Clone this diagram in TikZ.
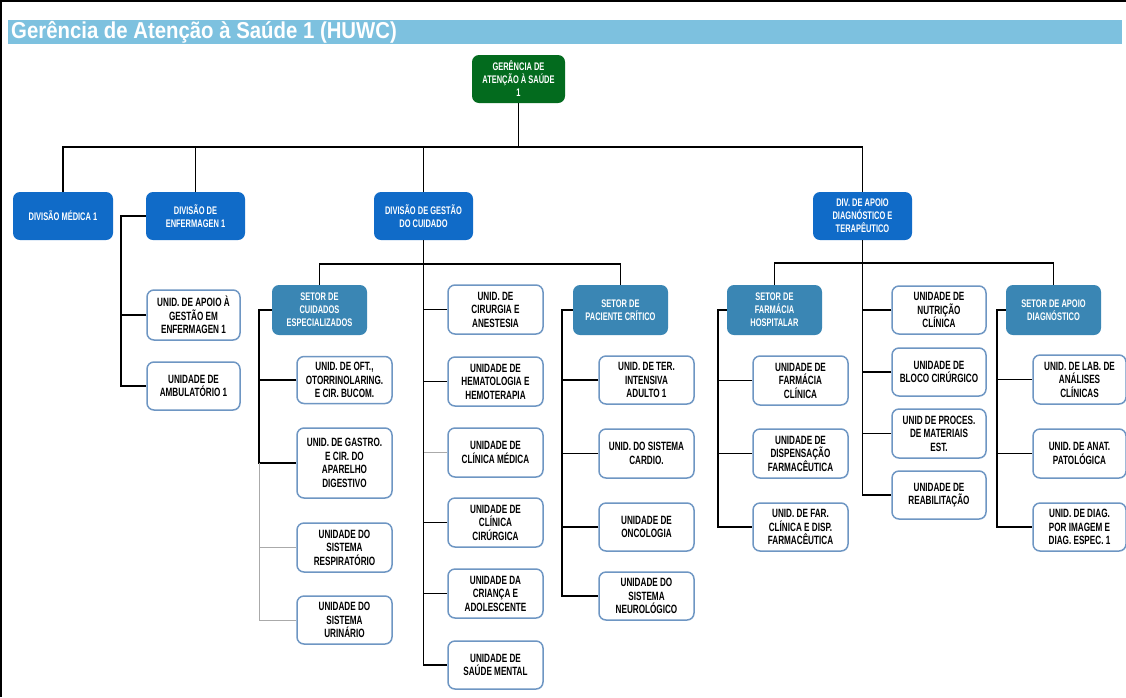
\documentclass[tikz,border=0pt]{standalone}
\usepackage{fontspec}
\newfontfamily\unitfont{Liberation Sans}[FakeStretch=0.68]
\newfontfamily\titlefont{Liberation Sans}[FakeStretch=0.885]
\definecolor{titlebar}{RGB}{125,193,223}
\definecolor{topgreen}{RGB}{3,107,30}
\definecolor{divblue}{RGB}{16,107,200}
\definecolor{setorblue}{RGB}{58,134,180}
\definecolor{unitborder}{RGB}{110,150,195}
\definecolor{lightline}{RGB}{170,170,170}
\tikzset{
  box/.style={rounded corners=7pt, align=center, inner sep=0pt,
    font=\unitfont\bfseries\fontsize{12}{13.5}\selectfont},
  topbox/.style={box, fill=topgreen, text=white, minimum width=93pt, minimum height=48pt,
    font=\unitfont\bfseries\fontsize{11}{13}\selectfont},
  divbox/.style={box, fill=divblue, text=white, minimum width=99pt, minimum height=48pt,
    font=\unitfont\bfseries\fontsize{11}{13}\selectfont},
  setorbox/.style={box, fill=setorblue, text=white, minimum width=95pt, minimum height=50pt,
    font=\unitfont\bfseries\fontsize{11}{13}\selectfont},
  unitbox/.style={box, draw=unitborder, line width=1.5pt, fill=white, text=black,
    minimum width=95pt, minimum height=49pt},
  conn/.style={draw=black, line width=1.4pt},
  lconn/.style={draw=lightline, line width=1pt},
}
\begin{document}
\begin{tikzpicture}[x=1pt,y=-1pt]
\useasboundingbox (0,0) rectangle (1126,697);
\fill[white] (0,0) rectangle (1126,697);
% frame
\draw[line width=2.5pt] (1,697) -- (1,1) -- (1126,1);
% title
\fill[titlebar] (8,20) rectangle (1122,44);
\node[anchor=west, text=white, inner sep=0pt, font=\titlefont\bfseries\fontsize{23}{24}\selectfont] (title) at (11,32.5) {Gerência de Atenção à Saúde 1 (HUWC)};

% top
\node[topbox] (top) at (518.5,79) {GERÊNCIA DE\\ATENÇÃO À SAÚDE\\1};
% divisions
\node[divbox, minimum width=100pt] (dm) at (63,216) {DIVISÃO MÉDICA 1};
\node[divbox] (de) at (195.5,216) {DIVISÃO DE\\ENFERMAGEN 1};
\node[divbox] (dg) at (423.5,216) {DIVISÃO DE GESTÃO\\DO CUIDADO};
\node[divbox] (da) at (862.5,216) {DIV. DE APOIO\\DIAGNÓSTICO E\\TERAPÊUTICO};

% enfermagem
\node[unitbox, minimum width=93pt, minimum height=50pt] (e1) at (193.5,315) {UNID. DE APOIO À\\GESTÃO EM\\ENFERMAGEN 1};
\node[unitbox, minimum width=93pt, minimum height=48pt] (e2) at (193.5,386) {UNIDADE DE\\AMBULATÓRIO 1};

% setores
\node[setorbox] (sc) at (319.5,310) {SETOR DE\\CUIDADOS\\ESPECIALIZADOS};
\node[setorbox] (sp) at (620.5,310) {SETOR DE\\PACIENTE CRÍTICO};
\node[setorbox] (sf) at (774.5,310) {SETOR DE\\FARMÁCIA\\HOSPITALAR};
\node[setorbox] (sa) at (1053.5,310) {SETOR DE APOIO\\DIAGNÓSTICO};

% cuidados especializados
\node[unitbox, minimum height=47pt] (c1) at (344.5,380) {UNID. DE OFT.,\\OTORRINOLARING.\\E CIR. BUCOM.};
\node[unitbox, minimum height=70pt] (c2) at (344.5,463) {UNID. DE GASTRO.\\E CIR. DO\\APARELHO\\DIGESTIVO};
\node[unitbox] (c3) at (344.5,547.5) {UNIDADE DO\\SISTEMA\\RESPIRATÓRIO};
\node[unitbox, minimum height=48pt] (c4) at (344.5,620) {UNIDADE DO\\SISTEMA\\URINÁRIO};

% gestao do cuidado middle column
\node[unitbox] (m1) at (495.5,309.5) {UNID. DE\\CIRURGIA E\\ANESTESIA};
\node[unitbox] (m2) at (495.5,381.5) {UNIDADE DE\\HEMATOLOGIA E\\HEMOTERAPIA};
\node[unitbox] (m3) at (495.5,452.5) {UNIDADE DE\\CLÍNICA MÉDICA};
\node[unitbox] (m4) at (495.5,522.5) {UNIDADE DE\\CLÍNICA\\CIRÚRGICA};
\node[unitbox] (m5) at (495.5,593.5) {UNIDADE DA\\CRIANÇA E\\ADOLESCENTE};
\node[unitbox, minimum height=48pt] (m6) at (495.5,665) {UNIDADE DE\\SAÚDE MENTAL};

% paciente critico
\node[unitbox, minimum height=48pt] (p1) at (646.5,380) {UNID. DE TER.\\INTENSIVA\\ADULTO 1};
\node[unitbox] (p2) at (646.5,453.5) {UNID. DO SISTEMA\\CARDIO.};
\node[unitbox, minimum height=48pt] (p3) at (646.5,527) {UNIDADE DE\\ONCOLOGIA};
\node[unitbox, minimum height=48pt] (p4) at (646.5,596) {UNIDADE DO\\SISTEMA\\NEUROLÓGICO};

% farmacia
\node[unitbox] (f1) at (800.5,380.5) {UNIDADE DE\\FARMÁCIA\\CLÍNICA};
\node[unitbox] (f2) at (800.5,453.5) {UNIDADE DE\\DISPENSAÇÃO\\FARMACÊUTICA};
\node[unitbox, minimum height=48pt] (f3) at (800.5,527) {UNID. DE FAR.\\CLÍNICA E DISP.\\FARMACÊUTICA};

% apoio middle column
\node[unitbox, minimum width=94pt, minimum height=48pt] (a1) at (939,310) {UNIDADE DE\\NUTRIÇÃO\\CLÍNICA};
\node[unitbox, minimum width=94pt, minimum height=48pt] (a2) at (939,372) {UNIDADE DE\\BLOCO CIRÚRGICO};
\node[unitbox, minimum width=94pt] (a3) at (939,433.5) {UNID DE PROCES.\\DE MATERIAIS\\EST.};
\node[unitbox, minimum width=94pt, minimum height=48pt] (a4) at (939,495) {UNIDADE DE\\REABILITAÇÃO};

% apoio diagnostico
\node[unitbox, minimum width=93pt] (d1) at (1079.5,379.5) {UNID. DE LAB. DE\\ANÁLISES\\CLÍNICAS};
\node[unitbox, minimum width=93pt] (d2) at (1079.5,453.5) {UNID. DE ANAT.\\PATOLÓGICA};
\node[unitbox, minimum width=93pt, minimum height=48pt] (d3) at (1079.5,527) {UNID. DE DIAG.\\POR IMAGEM E\\DIAG. ESPEC. 1};

% bus coordinates
\coordinate (bus1) at (0,147);
\coordinate (bus2) at (0,264);
\coordinate (bus3) at (0,263);
\coordinate (benf) at (121,0);
\coordinate (bsc) at (259,0);
\coordinate (bsp) at (562,0);
\coordinate (bsf) at (718,0);
\coordinate (bsa) at (997,0);

% top level
\draw[conn] (top.south) -- (top.south |- bus1);
\draw[conn] (dm.north) -- (dm.north |- bus1) -- (da.north |- bus1) -- (da.north);
\draw[conn] (de.north) -- (de.north |- bus1);
\draw[conn] (dg.north) -- (dg.north |- bus1);

% enfermagem
\draw[conn] (de.west) -- (de.west -| benf) |- (e2.west);
\draw[conn] (e1.west) -- (e1.west -| benf);

% gestao do cuidado
\draw[conn] (dg.south) |- (m6.west);
\draw[conn] (sc.north) -- (sc.north |- bus2) -- (sp.north |- bus2) -- (sp.north);
\draw[conn] (m1.west) -- (m1.west -| dg.south);
\draw[conn] (m2.west) -- (m2.west -| dg.south);
\draw[lconn] (m3.west) -- (m3.west -| dg.south);
\draw[conn] (m4.west) -- (m4.west -| dg.south);
\draw[conn] (m5.west) -- (m5.west -| dg.south);

% cuidados especializados
\draw[conn] (sc.west) -- (sc.west -| bsc) |- (c2.west);
\draw[conn] (c1.west) -- (c1.west -| bsc);
\draw[lconn] (c2.west -| bsc) |- (c4.west);
\draw[lconn] (c3.west) -- (c3.west -| bsc);

% paciente critico
\draw[conn] (sp.west) -- (sp.west -| bsp) |- (p4.west);
\draw[conn] (p1.west) -- (p1.west -| bsp);
\draw[conn] (p2.west) -- (p2.west -| bsp);
\draw[conn] (p3.west) -- (p3.west -| bsp);

% apoio
\draw[conn] (da.south) |- (a4.west);
\draw[conn] (sf.north) -- (sf.north |- bus3) -- (sa.north |- bus3) -- (sa.north);
\draw[conn] (a1.west) -- (a1.west -| da.south);
\draw[conn] (a2.west) -- (a2.west -| da.south);
\draw[conn] (a3.west) -- (a3.west -| da.south);

% farmacia
\draw[conn] (sf.west) -- (sf.west -| bsf) |- (f3.west);
\draw[conn] (f1.west) -- (f1.west -| bsf);
\draw[conn] (f2.west) -- (f2.west -| bsf);

% apoio diagnostico
\draw[conn] (sa.west) -- (sa.west -| bsa) |- (d3.west);
\draw[conn] (d1.west) -- (d1.west -| bsa);
\draw[conn] (d2.west) -- (d2.west -| bsa);
\end{tikzpicture}
\end{document}
